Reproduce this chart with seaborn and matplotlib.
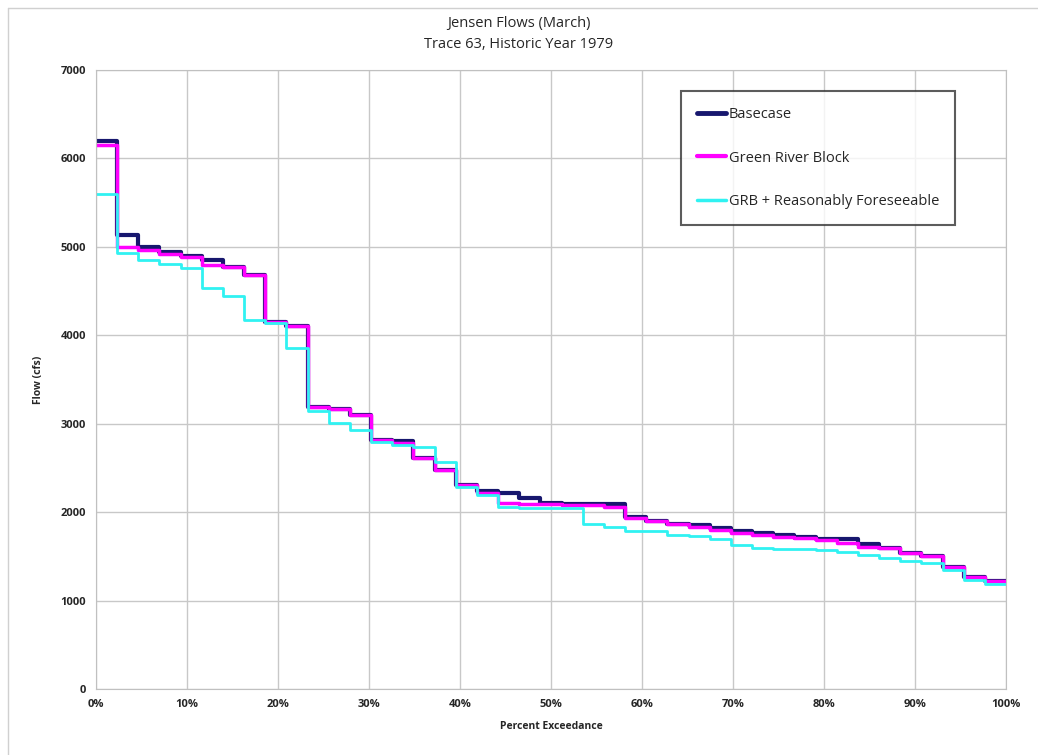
import numpy as np
import pandas as pd
import matplotlib.pyplot as plt
import seaborn as sns
from matplotlib.lines import Line2D

# Caudales ordenados (cfs) para cada escenario, un valor por escalón
basecase = [6200, 5130, 5000, 4940, 4900, 4850, 4770, 4680, 4150, 4100,
            3190, 3170, 3100, 2820, 2800, 2610, 2480, 2310, 2240, 2220,
            2160, 2100, 2090, 2090, 2090, 1950, 1905, 1870, 1855, 1817,
            1790, 1761, 1741, 1715, 1693, 1693, 1640, 1591, 1541, 1504,
            1383, 1263, 1225]
green_river = [6150, 5000, 4960, 4920, 4880, 4790, 4770, 4680, 4150, 4100,
               3190, 3170, 3100, 2820, 2780, 2610, 2480, 2310, 2220, 2100,
               2090, 2090, 2080, 2080, 2060, 1930, 1900, 1866, 1828, 1798,
               1761, 1741, 1723, 1704, 1685, 1647, 1610, 1591, 1541, 1504,
               1383, 1263, 1225]
grb_rf = [5600, 4930, 4850, 4810, 4760, 4540, 4440, 4170, 4140, 3860,
          3140, 3010, 2930, 2790, 2760, 2740, 2570, 2280, 2190, 2060,
          2050, 2050, 2050, 1870, 1830, 1790, 1790, 1745, 1730, 1693,
          1628, 1591, 1580, 1580, 1572, 1553, 1515, 1478, 1451, 1421,
          1346, 1233, 1187]
escenarios = ['Basecase', 'Green River Block', 'GRB + Reasonably Foreseeable']
colores = ['#17176e', '#ff00ff', '#30f2f2']
grosores = [3.0, 2.5, 2.0]

n = len(basecase)
# Inicio de cada escalón y cierre en 100%
excedencia = list(np.arange(n) * 100.0 / n) + [100.0]

filas = []
for nombre, serie in zip(escenarios, [basecase, green_river, grb_rf]):
    valores = list(serie) + [serie[-1]]
    for x, y in zip(excedencia, valores):
        filas.append({'exc': x, 'flow': y, 'escenario': nombre})
df = pd.DataFrame(filas)

sns.set_style('white')
plt.rcParams['font.family'] = ['Open Sans', 'DejaVu Sans']

fig = plt.figure(figsize=(10.38, 7.55), dpi=100)
ax = fig.add_axes([96 / 1038, 1 - 689 / 755, 910 / 1038, 619 / 755])

for nombre, color, lw in zip(escenarios, colores, grosores):
    sns.lineplot(data=df[df['escenario'] == nombre], x='exc', y='flow',
                 color=color, lw=lw, drawstyle='steps-post', ax=ax,
                 label=nombre, sort=False)

ax.set_xlim(0, 100)
ax.set_ylim(0, 7000)
ax.set_xticks(range(0, 101, 10))
ax.set_xticklabels([f'{v}%' for v in range(0, 101, 10)])
ax.set_yticks(range(0, 7001, 1000))
ax.grid(True, color='#c8c8c8', lw=1)
for s in ax.spines.values():
    s.set_color('#c0c0c0')
ax.tick_params(axis='both', length=4, color='#b0b0b0', labelsize=8, pad=3)
for lab in ax.get_xticklabels() + ax.get_yticklabels():
    lab.set_fontweight('bold')

ax.set_xlabel('Percent Exceedance', fontsize=7.5, fontweight='bold', labelpad=8)
ax.set_ylabel('Flow (cfs)', fontsize=7.5, fontweight='bold', labelpad=12)
fig.text(0.5, 0.955, 'Jensen Flows (March)\nTrace 63, Historic Year 1979',
         ha='center', va='center', fontsize=10.5, linespacing=1.5)

leg = ax.legend(loc='upper left', bbox_to_anchor=(0.643, 0.966), fontsize=10.5,
                frameon=True, fancybox=False, edgecolor='#333333',
                handlelength=2.0, handletextpad=0.15, labelspacing=1.95,
                borderpad=1.1, borderaxespad=0)
leg.get_frame().set_linewidth(1.5)
for h, lw in zip(leg.get_lines(), grosores):
    h.set_linewidth(lw + 0.5)

# Marco exterior del gráfico (borde superior e izquierdo)
fig.add_artist(Line2D([8 / 1038, 1], [1 - 8 / 755, 1 - 8 / 755], color='#d0d0d0', lw=1))
fig.add_artist(Line2D([8 / 1038, 8 / 1038], [0, 1 - 8 / 755], color='#d0d0d0', lw=1))

fig.savefig('out.png', dpi=100)
